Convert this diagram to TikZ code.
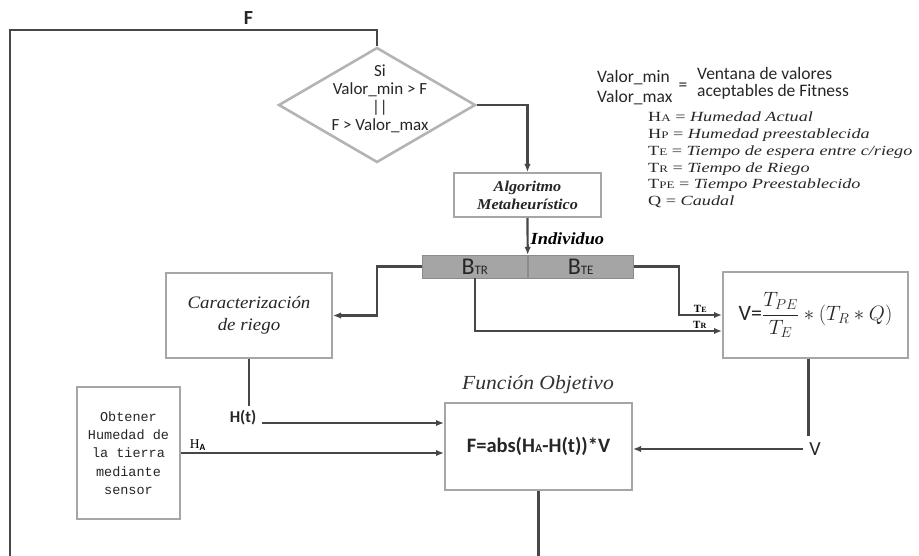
\documentclass[tikz,border=0pt]{standalone}
\usepackage{amsmath}
\usepackage{fontspec}
\setmainfont{Liberation Serif}
\setsansfont{Carlito}
\setmonofont{Liberation Mono}
\newfontfamily\cambriafont{Liberation Serif}[FakeStretch=1.08]
\newfontfamily\legendfont{Liberation Serif}[FakeStretch=1.3]
\usepackage[]{xcolor}
\usetikzlibrary{shapes.geometric, arrows.meta, positioning}
\definecolor{linecol}{HTML}{474747}
\definecolor{boxcol}{HTML}{A6A6A6}
\definecolor{condcol}{HTML}{B4B4B4}
\definecolor{barcol}{HTML}{A5A5A5}
\newcommand{\lowcap}[2][10]{{\fontsize{#1}{#1}\selectfont #2}}

\begin{document}
\begin{tikzpicture}[
            x=1pt, y=-1pt,
            block/.style={rectangle, draw=boxcol, line width=2pt, fill=white, inner sep=0pt, align=center, text=black!85},
            cond/.style={diamond, draw=condcol, line width=2.6pt, inner sep=0pt, minimum width=197pt, minimum height=115pt},
            half/.style={rectangle, fill=barcol, draw=barcol!85!black, line width=0.4pt, minimum width=105.5pt, minimum height=23pt, inner sep=0pt, text=black!85, font=\sffamily},
            line/.style={draw=linecol, line width=2.2pt},
            arrow/.style={line, -{Latex[length=8pt,width=6.5pt]}},
            loopline/.style={draw=linecol, line width=2.8pt},
            sanslabel/.style={inner sep=0pt, text=black!85, font=\sffamily\fontsize{17.5}{20}\selectfont}
        ]
            \useasboundingbox (0,0) rectangle (919,556);
            \clip (0,0) rectangle (919,556);

            % decision and search
            \node[cond] (cond) at (377,105) {};
            \node[sanslabel, align=center, font=\sffamily\fontsize{17}{18}\selectfont] (condtext) at (380,99) {Si\\Valor\_min > F\\||\\F > Valor\_max};
            \node[block, minimum width=147pt, minimum height=44pt, font=\cambriafont\bfseries\itshape\fontsize{15}{18}\selectfont] (meta) at (527.5,195) {Algoritmo\\Metaheurístico};
            \node[half] (btr) at (474.75,266.5) {\fontsize{24}{24}\selectfont B\lowcap[13]{TR}};
            \node[half, right=0pt of btr] (bte) {\fontsize{24}{24}\selectfont B\lowcap[13]{TE}};

            % blocks
            \node[block, minimum width=166pt, minimum height=85pt, font=\cambriafont\itshape\fontsize{17.5}{22}\selectfont] (carac) at (249,315.5) {Caracterización\\de riego};
            \node[block, minimum width=185pt, minimum height=86pt, font=\sffamily\fontsize{22}{22}\selectfont] (vbox) at (815.5,315) {V=$\dfrac{T_{PE}}{T_E}\ast(T_R\ast Q)$};
            \node[block, minimum width=103pt, minimum height=132pt, font=\ttfamily\fontsize{13.5}{18.3}\selectfont] (sensor) at (128.5,453) {Obtener\\Humedad de\\la tierra\\mediante\\sensor};
            \node[block, minimum width=187pt, minimum height=87pt, font=\sffamily\bfseries\fontsize{20.5}{20}\selectfont] (fbox) at (538.5,446.5) {F=abs(H\lowcap[12]{A}-H(t))*V};
            \node[inner sep=0pt, text=black!80, font=\cambriafont\itshape\fontsize{20}{20}\selectfont] (ftitle) at (538,385) {Función Objetivo};

            % labels on the free ends
            \node[sanslabel, font=\sffamily\bfseries\fontsize{16.5}{18}\selectfont] (ht) at (243,418) {H(t)};
            \node[sanslabel, font=\sffamily\fontsize{20}{20}\selectfont] (vlab) at (815,449) {V};

            % legend
            \node[sanslabel, align=left, anchor=west] (vrange) at (597,88) {Valor\_min\\Valor\_max};
            \node[sanslabel] (veq) at (683,87) {=};
            \node[sanslabel, align=left, anchor=west, font=\sffamily\fontsize{17.5}{17}\selectfont] (vdesc) at (697,83.5) {Ventana de valores\\aceptables de Fitness};
            \node[inner sep=0pt, align=left, anchor=west, text=black!85, font=\legendfont\fontsize{14}{16.8}\selectfont] (defs) at (648,160) {%
                H\lowcap{A} = \textit{Humedad Actual}\\
                H\lowcap{P} = \textit{Humedad preestablecida}\\
                T\lowcap{E} = \textit{Tiempo de espera entre c/riego}\\
                T\lowcap{R} = \textit{Tiempo de Riego}\\
                T\lowcap{PE} = \textit{Tiempo Preestablecido}\\
                Q = \textit{Caudal}};

            % connectors
            \coordinate (loopbl) at (10,600);
            \coordinate (looptl) at (10,30);
            \draw[loopline] (fbox.south) |- (loopbl) -- (looptl) -- node[pos=.65, above=4pt, sanslabel, font=\sffamily\bfseries\fontsize{20}{20}\selectfont] (flab) {F} (looptl -| cond.north) -- (cond.north);
            \draw[arrow] (cond.east) -| (meta.north);
            \draw[arrow] (meta.south) -- node[pos=.55, right=2pt, inner sep=0pt, font=\cambriafont\bfseries\itshape\fontsize{17}{17}\selectfont] (indlab) {Individuo} (btr.north east);
            \draw[arrow] (btr.west) -- ++(-45,0) |- (carac.east);
            \draw[arrow] (bte.east) -- ++(45,0) |- node[pos=.75, above=1pt, inner sep=0pt, font=\bfseries\fontsize{11}{11}\selectfont] (telab) {T\lowcap[8]{E}} (vbox.west);
            \draw[arrow] (btr.south) |- node[pos=.955, above=1pt, inner sep=0pt, font=\bfseries\fontsize{11}{11}\selectfont] (trlab) {T\lowcap[8]{R}} ([yshift=-16pt]vbox.west);
            \draw[line] (carac.south) -- ++(0,47);
            \draw[arrow] ([xshift=6pt,yshift=-5pt]ht.east) -- ([yshift=-5pt]ht.east -| fbox.west);
            \draw[arrow] (sensor.east) -- node[pos=.03, above right=1pt and 0pt, inner sep=0pt, font=\fontsize{13.5}{13.5}\selectfont] (halab) {$\mathrm{H}_{\textsf{\textbf{A}}}$} (sensor.east -| fbox.west);
            \draw[line] ([xshift=-7pt]vbox.south) -- ++(0,77);
            \draw[arrow] ([xshift=-6pt]vlab.west) -- (vlab.west -| fbox.east);
        \end{tikzpicture}
\end{document}
